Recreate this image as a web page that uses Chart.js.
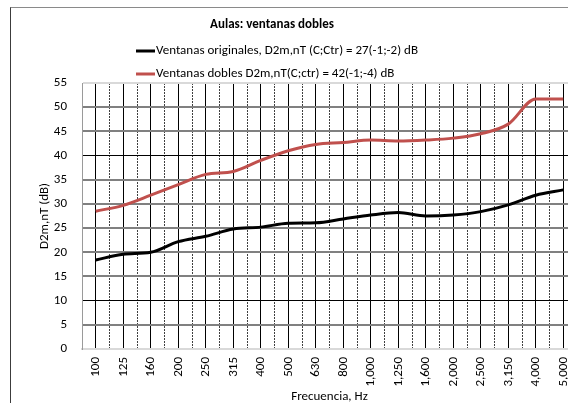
<!DOCTYPE html>
<html>
<head>
<meta charset="utf-8">
<script src="https://cdn.jsdelivr.net/npm/chart.js@4.4.1/dist/chart.umd.min.js"></script>
<style>
  html, body { margin: 0; padding: 0; width: 568px; height: 403px; overflow: hidden; background: #fff; }
  #frame { position: absolute; left: 10px; top: 7px; width: 700px; height: 500px;
           border-top: 1px solid #8a8a8a; border-left: 1px solid #3c3c3c; }
  #wrap { position: absolute; left: 0; top: 0; width: 600px; height: 425px; }
</style>
</head>
<body>
<div id="frame"></div>
<div id="wrap"><canvas id="c" width="600" height="425"></canvas></div>
<script>
const chartTitle = 'Aulas: ventanas dobles';
const categories = ['100','125','160','200','250','315','400','500','630','800','1,000','1,250','1,600','2,000','2,500','3,150','4,000','5,000'];
const seriesNames = ['Ventanas originales, D2m,nT (C;Ctr) = 27(-1;-2) dB', 'Ventanas dobles D2m,nT(C;ctr) = 42(-1;-4) dB'];
const originales = [18.4, 19.6, 20.0, 22.2, 23.3, 24.8, 25.2, 26.0, 26.1, 26.9, 27.7, 28.2, 27.5, 27.7, 28.4, 29.8, 31.8, 32.9];
const dobles = [28.5, 29.7, 31.8, 34.0, 36.1, 36.7, 39.0, 41.0, 42.3, 42.7, 43.2, 43.0, 43.2, 43.6, 44.5, 46.5, 51.7, 51.7];
const yTicks = [0, 5, 10, 15, 20, 25, 30, 35, 40, 45, 50, 55];
const xAxisTitle = 'Frecuencia, Hz';
const yAxisTitle = 'D2m,nT (dB)';

const FONT = 'Carlito, Lato, "Open Sans", sans-serif';
const H = 425;

const headerPlugin = {
  id: 'header',
  afterDraw(chart) {
    const ctx = chart.ctx;
    ctx.save();
    ctx.fillStyle = '#000';
    ctx.textBaseline = 'middle';
    ctx.font = 'bold 13px ' + FONT;
    ctx.textAlign = 'center';
    ctx.fillText(chartTitle, 272, 25);
    ctx.font = '13px ' + FONT;
    ctx.textAlign = 'left';
    const rows = [51, 74];
    chart.data.datasets.forEach((ds, i) => {
      const y = rows[i];
      ctx.strokeStyle = ds.borderColor;
      ctx.lineWidth = 3;
      ctx.beginPath();
      ctx.moveTo(136, y);
      ctx.lineTo(155, y);
      ctx.stroke();
      ctx.fillText(ds.label, 156, y);
    });
    ctx.restore();
  }
};

new Chart(document.getElementById('c'), {
  type: 'line',
  data: {
    labels: categories,
    datasets: [
      { label: seriesNames[0], data: originales, borderColor: '#000000', backgroundColor: '#000000',
        borderWidth: 3, pointRadius: 0, cubicInterpolationMode: 'monotone', xAxisID: 'x', yAxisID: 'y' },
      { label: seriesNames[1], data: dobles, borderColor: '#c0504d', backgroundColor: '#c0504d',
        borderWidth: 3, pointRadius: 0, cubicInterpolationMode: 'monotone', xAxisID: 'x', yAxisID: 'y' }
    ]
  },
  options: {
    responsive: false,
    animation: false,
    devicePixelRatio: 1,
    layout: { padding: { top: 83, right: 23, left: 0, bottom: 0 } },
    plugins: { legend: { display: false }, title: { display: false }, tooltip: { enabled: false } },
    scales: {
      x: {
        type: 'category',
        position: 'bottom',
        offset: true,
        grid: { offset: false, color: '#000', lineWidth: 1, drawTicks: false },
        border: { display: true, color: '#d9d9d9', width: 2 },
        ticks: { autoSkip: false, minRotation: 90, maxRotation: 90, padding: 8, color: '#000',
                 font: { family: FONT, size: 13 } },
        title: { display: true, text: xAxisTitle, color: '#000', font: { family: FONT, size: 13 },
                 padding: { top: 0, bottom: 20 } },
        afterFit(s) { s.height = H - 349; }
      },
      x2: {
        type: 'category',
        position: 'bottom',
        labels: categories,
        offset: true,
        grid: { offset: true, color: '#404040', lineWidth: 1, drawTicks: false },
        border: { display: false, dash: [2, 1] },
        ticks: { display: false },
        afterFit(s) { s.height = 0; }
      },
      y: {
        type: 'linear',
        min: 0, max: 55,
        afterBuildTicks(s) { s.ticks = yTicks.map(v => ({ value: v })); },
        grid: {
          drawTicks: false,
          color: c => (c.tick && (c.tick.value === 55 || c.tick.value === 0)) ? '#d9d9d9'
                     : (c.tick && (c.tick.value === 40 || c.tick.value === 10)) ? '#000' : '#808080',
          lineWidth: c => (c.tick && (c.tick.value === 40 || c.tick.value === 10)) ? 1 : 2
        },
        border: { display: true, color: '#9a9a9a', width: 1 },
        ticks: { padding: 15, color: '#000', font: { family: FONT, size: 13 } },
        title: { display: true, text: yAxisTitle, color: '#000', font: { family: FONT, size: 13 },
                 padding: { top: 37, bottom: 0 } },
        afterFit(s) { s.width = 82; }
      }
    }
  },
  plugins: [headerPlugin]
});
</script>
</body>
</html>
